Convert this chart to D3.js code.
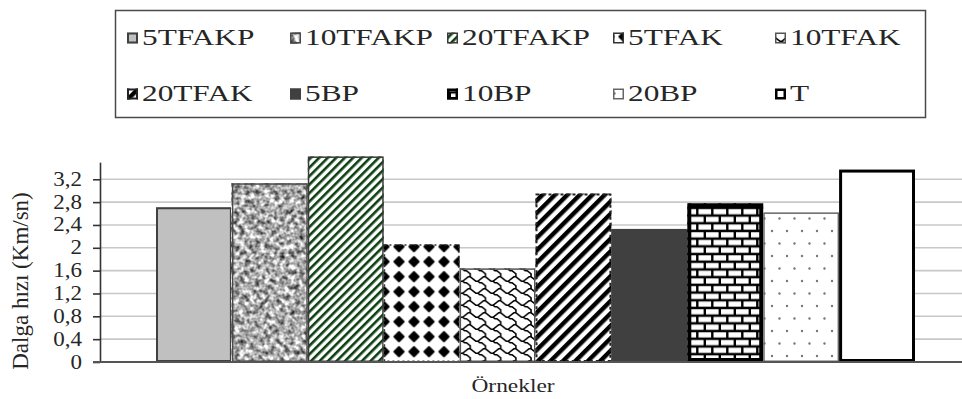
<!DOCTYPE html>
<html>
<head>
<meta charset="utf-8">
<script src="https://cdn.jsdelivr.net/npm/d3@7"></script>
<style>
  body { margin: 0; background: #fff; }
  svg { display: block; }
  text { font-family: "Liberation Serif", "Times New Roman", serif; fill: #262626; }
</style>
</head>
<body>
<svg id="chart" width="962" height="399"></svg>
<script>
// Wave velocity per sample
const series = ["5TFAKP", "10TFAKP", "20TFAKP", "5TFAK", "10TFAK", "20TFAK", "5BP", "10BP", "20BP", "T"];
const values = [2.71, 3.13, 3.60, 2.06, 1.64, 2.95, 2.33, 2.78, 2.62, 3.37];
const tickValues = [0, 0.4, 0.8, 1.2, 1.6, 2, 2.4, 2.8, 3.2];
const tickLabels = ["0", "0,4", "0,8", "1,2", "1,6", "2", "2,4", "2,8", "3,2"];
const xTitle = "Örnekler";
const yTitle = "Dalga hızı (Km/sn)";

// Fill / outline look of each series
const looks = {
  "5TFAKP":  { fill: "#c0c0c0",          stroke: "#404040", sw: 2 },
  "10TFAKP": { fill: "granite",          stroke: "#4a4a4a", sw: 1.5 },
  "20TFAKP": { fill: "url(#greenDiag)",  stroke: "#3a3a3a", sw: 1.5 },
  "5TFAK":   { fill: "url(#diamonds)",   stroke: "#333",    sw: 1.5, dash: "2,3" },
  "10TFAK":  { fill: "url(#shingle)",    stroke: "#555",    sw: 1.5 },
  "20TFAK":  { fill: "url(#blackDiag)",  stroke: "#222",    sw: 2,   dash: "3,3" },
  "5BP":     { fill: "#404040",          stroke: "#404040", sw: 1 },
  "10BP":    { fill: "url(#brick)",      stroke: "#000",    sw: 4 },
  "20BP":    { fill: "url(#dots)",       stroke: "#666",    sw: 1.5 },
  "T":       { fill: "#ffffff",          stroke: "#000",    sw: 3 }
};

const svg = d3.select("#chart");
const defs = svg.append("defs");

// Diagonal hatch patterns ("/" direction)
function diagPattern(id, period, width, color) {
  const p = defs.append("pattern").attr("id", id)
    .attr("patternUnits", "userSpaceOnUse")
    .attr("width", period).attr("height", period)
    .attr("patternTransform", "rotate(45)");
  p.append("rect").attr("width", period).attr("height", period).attr("fill", "#fff");
  p.append("rect").attr("width", width).attr("height", period).attr("fill", color);
}
diagPattern("greenDiag", 6, 2.6, "#0c3f10");
diagPattern("blackDiag", 8.8, 4.4, "#000");

// Large rounded diamond dots
{
  const p = defs.append("pattern").attr("id", "diamonds")
    .attr("patternUnits", "userSpaceOnUse")
    .attr("x", 1.5).attr("y", -0.8).attr("width", 15).attr("height", 15);
  p.append("rect").attr("width", 15).attr("height", 15).attr("fill", "#fff");
  p.append("path").attr("d", "M7.5,3 L12,7.5 L7.5,12 L3,7.5 Z")
    .attr("fill", "#000").attr("stroke", "#000").attr("stroke-width", 2.2)
    .attr("stroke-linejoin", "round");
}

// Shingle hatch, built on an 8x8 cell and enlarged
{
  const p = defs.append("pattern").attr("id", "shingle")
    .attr("patternUnits", "userSpaceOnUse")
    .attr("width", 8).attr("height", 8)
    .attr("patternTransform", "scale(1.9,1.5)");
  p.append("rect").attr("width", 8).attr("height", 8).attr("fill", "#fff");
  p.append("path")
    .attr("d", "M-0.5,0.5 L2.5,3.5 L3.5,3.5 L4.5,4.5 L5.5,4.5 L7.5,6.5 L7.5,8.5 " +
               "M3.5,3.5 L6.5,0.5 L7.5,0.5 L8.5,1.5 M7.5,-0.5 L7.5,0.5")
    .attr("fill", "none").attr("stroke", "#000").attr("stroke-width", 0.85);
}

// Horizontal brick
{
  const p = defs.append("pattern").attr("id", "brick")
    .attr("patternUnits", "userSpaceOnUse")
    .attr("width", 15).attr("height", 15.4);
  p.append("rect").attr("width", 15).attr("height", 15.4).attr("fill", "#000");
  [[1, 1.2], [-6.5, 8.9], [8.5, 8.9]].forEach(([x, y]) =>
    p.append("rect").attr("x", x).attr("y", y).attr("width", 12.6).attr("height", 5.2).attr("fill", "#fff"));
}

// Sparse dots
{
  const p = defs.append("pattern").attr("id", "dots")
    .attr("patternUnits", "userSpaceOnUse")
    .attr("width", 15).attr("height", 25);
  p.append("rect").attr("width", 15).attr("height", 25).attr("fill", "#fff");
  [[7, 6], [14.5, 18.5], [-0.5, 18.5]].forEach(([x, y]) =>
    p.append("circle").attr("cx", x).attr("cy", y).attr("r", 1.2).attr("fill", "#777"));
}

// Granite texture
{
  const f = defs.append("filter").attr("id", "granite")
    .attr("x", 0).attr("y", 0).attr("width", 1).attr("height", 1)
    .attr("color-interpolation-filters", "sRGB");
  f.append("feTurbulence").attr("type", "fractalNoise")
    .attr("baseFrequency", 0.2).attr("numOctaves", 2).attr("seed", 7).attr("result", "n");
  f.append("feColorMatrix").attr("type", "matrix").attr("in", "n")
    .attr("values", "1.5 0 0 0 -0.08  1.5 0 0 0 -0.08  1.5 0 0 0 -0.08  0 0 0 0 1");
}

// Scales
const y = d3.scaleLinear().domain([0, 3.5]).range([362, 162.15]);
const x = d3.scaleBand().domain(series).range([156, 915]).padding(0);
const plotLeft = 100, plotRight = 962;

// Horizontal text drawn slightly widened, like the serif labels of the chart
function label(g, tx, ty, str, size, sx, anchor) {
  return g.append("text")
    .attr("transform", `translate(${tx},${ty}) scale(${sx},1)`)
    .attr("text-anchor", anchor || "start")
    .attr("font-size", size)
    .text(str);
}

// Gridlines
svg.append("g").selectAll("line")
  .data(tickValues.filter(v => v > 0))
  .join("line")
  .attr("x1", plotLeft).attr("x2", plotRight)
  .attr("y1", d => y(d)).attr("y2", d => y(d))
  .attr("stroke", "#c8c8c8").attr("stroke-width", 1.6);

// Bars
const bars = svg.append("g").selectAll("g")
  .data(series.map((s, i) => ({ s, v: values[i] })))
  .join("g");

bars.each(function (d) {
  const g = d3.select(this);
  const lk = looks[d.s];
  const bx = x(d.s), bw = x.bandwidth(), by = y(d.v), bh = y(0) - y(d.v);
  const r = g.append("rect").attr("x", bx).attr("y", by).attr("width", bw).attr("height", bh);
  if (lk.fill === "granite") r.attr("fill", "#999").attr("filter", "url(#granite)");
  else r.attr("fill", lk.fill);
  g.append("rect")
    .attr("x", bx + lk.sw / 2).attr("y", by + lk.sw / 2)
    .attr("width", bw - lk.sw).attr("height", bh - lk.sw)
    .attr("fill", "none").attr("stroke", lk.stroke).attr("stroke-width", lk.sw)
    .attr("stroke-dasharray", lk.dash || null);
});

// Y axis
const yAxis = svg.append("g").attr("transform", `translate(${plotLeft},0)`)
  .call(d3.axisLeft(y).tickValues(tickValues).tickSize(7).tickSizeOuter(0).tickFormat(""));
yAxis.select(".domain").attr("stroke", "#333").attr("stroke-width", 1.6);
yAxis.selectAll(".tick line").attr("stroke", "#333").attr("stroke-width", 1.6);
const tickG = svg.append("g");
tickValues.forEach((v, i) => {
  label(tickG, 82, y(v) + 6.5, tickLabels[i], 20, 1.15, "end");
});

// X axis baseline
svg.append("line")
  .attr("x1", plotLeft - 7).attr("x2", plotRight)
  .attr("y1", y(0)).attr("y2", y(0))
  .attr("stroke", "#555").attr("stroke-width", 2);

// Axis titles
label(svg, 513, 392, xTitle, 18, 1.3, "middle");
svg.append("text")
  .attr("transform", "translate(28,281) rotate(-90)")
  .attr("text-anchor", "middle")
  .attr("font-size", 23)
  .text(yTitle);

// Legend
const legend = svg.append("g");
legend.append("rect")
  .attr("x", 115.5).attr("y", 10.5).attr("width", 810).attr("height", 107)
  .attr("fill", "#fff").attr("stroke", "#4a4a4a").attr("stroke-width", 1.5);
const colX = [127, 290, 447, 613, 775];
const rowY = [45, 101];
series.forEach((s, i) => {
  const cx = colX[i % 5], cy = rowY[Math.floor(i / 5)];
  const lk = looks[s];
  const sz = 11, sx0 = cx, sy0 = cy - 12.5;
  const r = legend.append("rect").attr("x", sx0).attr("y", sy0).attr("width", sz).attr("height", sz);
  if (lk.fill === "granite") r.attr("fill", "#999").attr("filter", "url(#granite)");
  else r.attr("fill", lk.fill);
  const lw = Math.min(lk.sw, 2.5);
  legend.append("rect")
    .attr("x", sx0 + lw / 2).attr("y", sy0 + lw / 2)
    .attr("width", sz - lw).attr("height", sz - lw)
    .attr("fill", "none").attr("stroke", lk.stroke).attr("stroke-width", lw);
  label(legend, cx + 15, cy, s, 23, 1.36, "start");
});
</script>
</body>
</html>
